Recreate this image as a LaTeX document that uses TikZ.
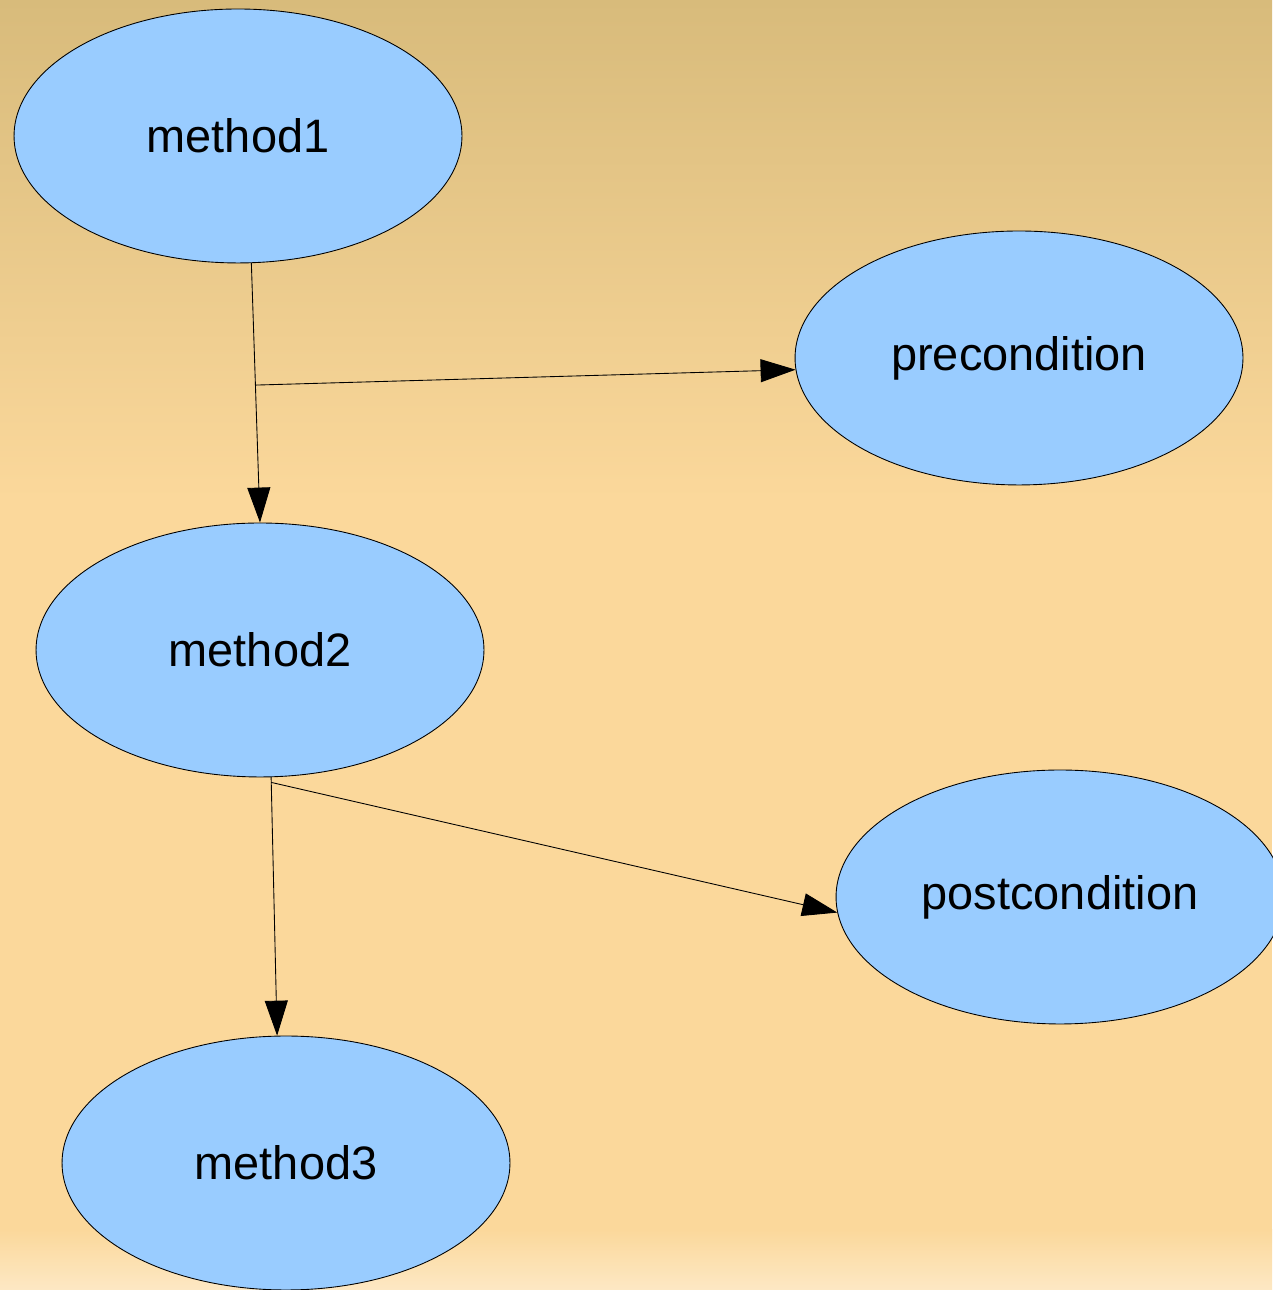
\documentclass[tikz,border=0pt]{standalone}
\usepackage{fontspec}
\setmainfont{Liberation Sans}
\usetikzlibrary{calc,arrows.meta,shapes.geometric}

\definecolor{bgtop}{RGB}{216,187,123}
\definecolor{bgmid}{RGB}{251,216,155}
\definecolor{bgbot}{RGB}{253,232,196}
\definecolor{nodeblue}{RGB}{153,204,255}

\tikzset{
  method/.style={ellipse, draw, fill=nodeblue, line width=0.5pt,
    minimum width=8.96cm, minimum height=5.08cm, inner sep=0pt,
    font=\fontsize{26.7}{32}\selectfont},
  edge/.style={-{Triangle[length=0.7cm, width=0.46cm]}, line width=0.5pt}
}

\begin{document}
\begin{tikzpicture}[x=0.02cm, y=0.02cm]
    \useasboundingbox (0,0) rectangle (1272,1290);

    % Background
    \shade[top color=bgtop, bottom color=bgmid] (0,790) rectangle (1272,1290);
    \fill[bgmid] (0,60) rectangle (1272,790.5);
    \shade[top color=bgmid, bottom color=bgbot] (0,0) rectangle (1272,60.5);

    % Methods
    \node[method] (m1) at (238,1154) {method1};
    \node[method] (m2) at (260,640) {method2};
    \node[method] (m3) at (286,127) {method3};

    % Conditions
    \node[method] (pre) at (1019,932) {precondition};
    \node[method] (post) at (1060,393) {postcondition};

    \coordinate (b1) at ($(m1.-84)!0.47!(m2.north)$);
    \coordinate (b2) at ($(m2.-85)!0.02!(m3.94)$);

    \draw[edge] (m1.-84) to (m2.north);
    \draw[edge] (b1) to (pre.183);
    \draw[edge] (m2.-85) to (m3.94);
    \draw[edge] (b2) to (post.184);
  \end{tikzpicture}
\end{document}
